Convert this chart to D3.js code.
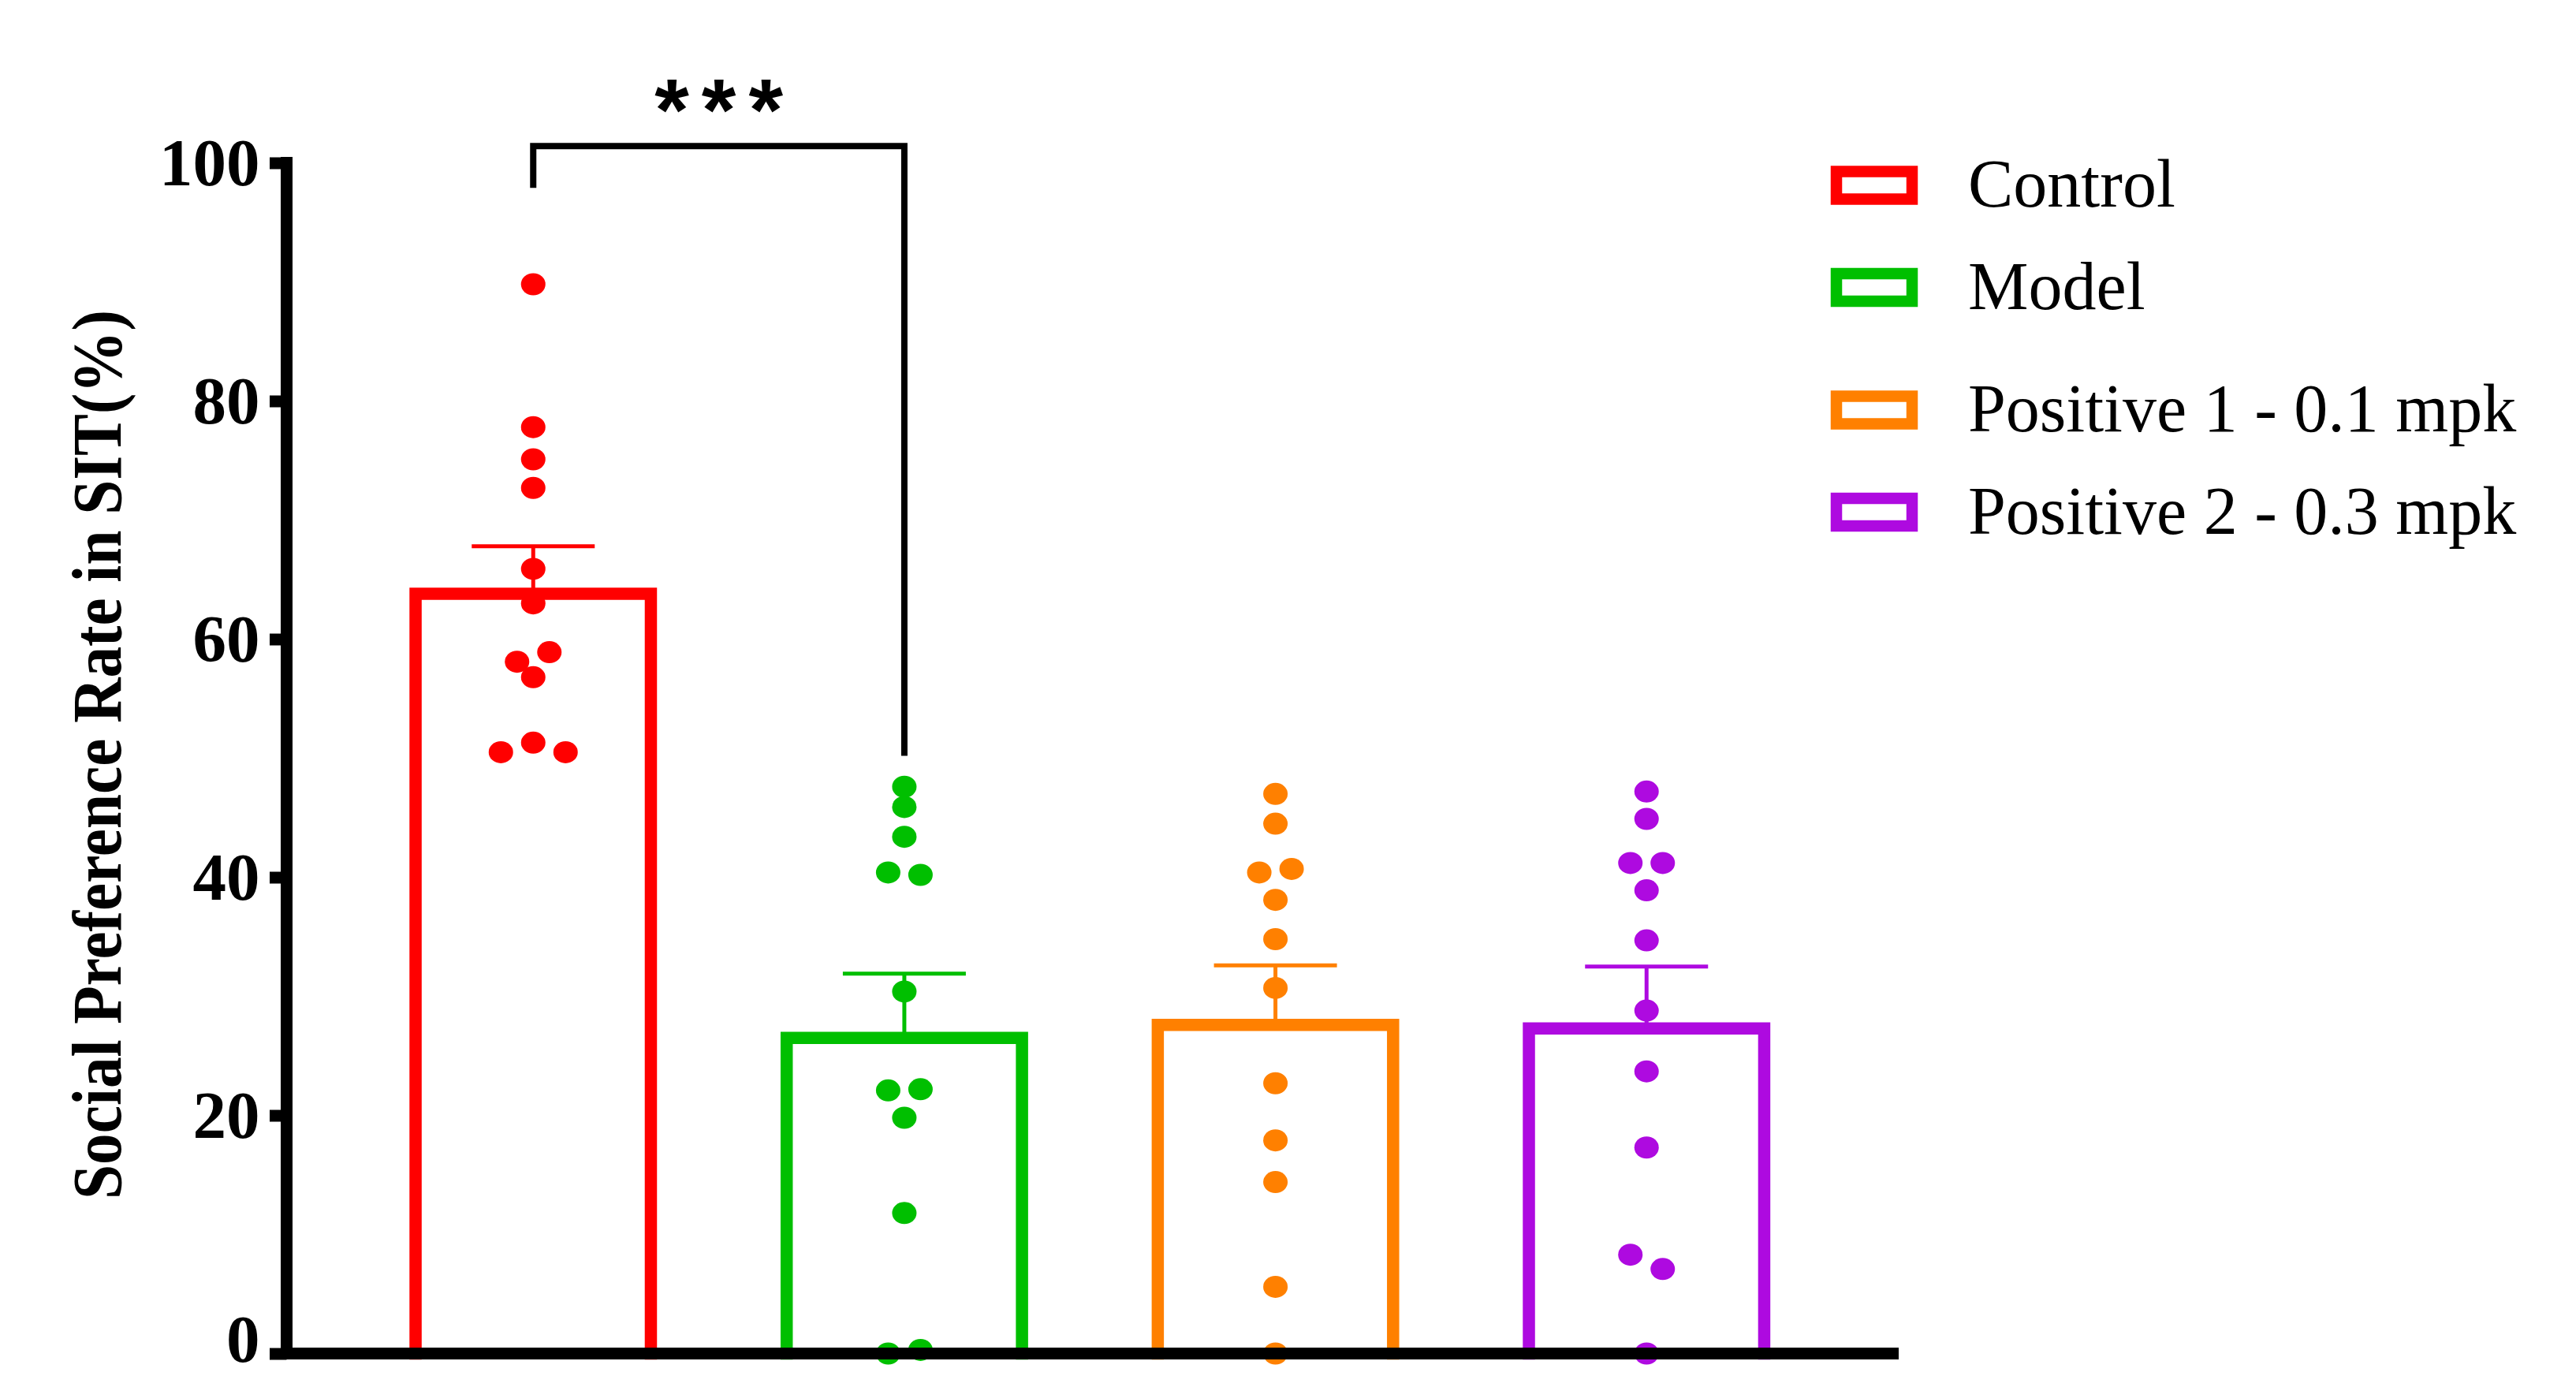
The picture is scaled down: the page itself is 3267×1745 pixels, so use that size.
<!DOCTYPE html>
<html>
<head>
<meta charset="utf-8">
<script src="https://cdn.jsdelivr.net/npm/d3@7"></script>
<style>
  body { margin: 0; background: #fff; }
  svg { display: block; }
</style>
</head>
<body>
<script>
// groups and colours
var groups = ['Control', 'Model', 'Positive 1 - 0.1 mpk', 'Positive 2 - 0.3 mpk'];
var colors = ['#ff0000', '#00bf00', '#ff8000', '#ae0ae0'];

// bar height (mean) and SEM
var means = [63.8, 26.5, 27.6, 27.3];
var sems = [4.0, 5.4, 5.0, 5.2];

// individual animals, one list per group
var controlPts = [89.8, 77.8, 75.1, 72.7, 65.9, 63.0, 58.1, 58.9, 56.8, 50.5, 51.3, 50.5];
var modelPts = [47.6, 45.9, 43.4, 40.4, 40.2, 30.4, 22.1, 22.2, 19.8, 11.8, 0.0, 0.3];
var pos1Pts = [47.0, 44.5, 40.4, 40.7, 38.1, 34.8, 30.7, 22.7, 17.9, 14.4, 5.6, 0.0];
var pos2Pts = [47.2, 44.9, 41.2, 41.2, 38.9, 34.7, 28.8, 23.7, 17.3, 8.3, 7.1, 0.0];
var points = [controlPts, modelPts, pos1Pts, pos2Pts];

var yTicks = [0, 20, 40, 60, 80, 100];

// significance bracket: Control vs Model
var sigPair = [0, 1];
var sigTop = 101.4;
var sigLegs = [97.9, 50.2];
var sigLabel = '***';

var W = 3267, H = 1745;

var svg = d3.select('body').append('svg')
  .attr('width', W)
  .attr('height', H);

var y = d3.scaleLinear()
  .domain([0, 100])
  .range([1716.5, 206.5]);

var x = d3.scaleBand()
  .domain(groups)
  .range([363.5, 2401])
  .paddingInner(0.333)
  .paddingOuter(0.331);

function cx(i) {
  return x(groups[i]) + x.bandwidth() / 2;
}

// spread points that sit at about the same height into a row, left to right in list order
function spread(vals, rowPx, gap) {
  var idx = vals.map(function(v, i) { return i; });
  idx.sort(function(a, b) { return vals[b] - vals[a] || a - b; });
  var off = new Array(vals.length);
  var k = 0;
  while (k < idx.length) {
    var row = [idx[k]];
    var top = y(vals[idx[k]]);
    var j = k + 1;
    while (j < idx.length && y(vals[idx[j]]) - top < rowPx) {
      row.push(idx[j]);
      j++;
    }
    row.sort(d3.ascending);
    row.forEach(function(p, r) {
      off[p] = (r - (row.length - 1) / 2) * gap;
    });
    k = j;
  }
  return off;
}

var barStroke = 15.5;

// bars
var bars = svg.append('g');
groups.forEach(function(g, i) {
  var bw = x.bandwidth() - barStroke;
  bars.append('path')
    .attr('d', 'M' + (cx(i) - bw / 2) + ',' + y(0) +
               'V' + y(means[i]) +
               'H' + (cx(i) + bw / 2) +
               'V' + y(0))
    .attr('fill', 'none')
    .attr('stroke', colors[i])
    .attr('stroke-width', barStroke)
    .attr('stroke-linejoin', 'miter')
    .attr('stroke-linecap', 'square');
});

// error bars (upper only)
var errs = svg.append('g');
groups.forEach(function(g, i) {
  var top = y(means[i] + sems[i]);
  errs.append('line')
    .attr('x1', cx(i)).attr('x2', cx(i))
    .attr('y1', y(means[i])).attr('y2', top)
    .attr('stroke', colors[i]).attr('stroke-width', 5);
  errs.append('line')
    .attr('x1', cx(i) - 78).attr('x2', cx(i) + 78)
    .attr('y1', top).attr('y2', top)
    .attr('stroke', colors[i]).attr('stroke-width', 5);
});

// dots
var dots = svg.append('g');
points.forEach(function(vals, i) {
  var off = spread(vals, 22, 41);
  dots.selectAll(null)
    .data(vals)
    .enter().append('ellipse')
    .attr('cx', function(d, k) { return cx(i) + off[k]; })
    .attr('cy', function(d) { return y(d); })
    .attr('rx', 15.5)
    .attr('ry', 14)
    .attr('fill', colors[i]);
});

// y axis
var yAxis = d3.axisLeft(y)
  .tickValues(yTicks)
  .tickSize(21.5)
  .tickPadding(12.5)
  .tickFormat(d3.format('d'));

var ya = svg.append('g')
  .attr('transform', 'translate(363.5,0)')
  .call(yAxis);
ya.select('.domain').remove();
ya.selectAll('.tick line')
  .attr('stroke', '#000')
  .attr('stroke-width', 15);
ya.selectAll('.tick text')
  .attr('fill', '#000')
  // the 0 label is lifted a little so it stays inside the page
  .attr('dy', function(d) { return d === 0 ? '0.12em' : '0.33em'; })
  .style('font-family', '"Liberation Serif", "Times New Roman", serif')
  .style('font-weight', 'bold')
  .style('font-size', '85px');

svg.append('line')
  .attr('x1', 363.5).attr('x2', 363.5)
  .attr('y1', y(100) - 7.5).attr('y2', y(0))
  .attr('stroke', '#000').attr('stroke-width', 15);

// x axis: plain line, no ticks
svg.append('line')
  .attr('x1', 356).attr('x2', 2408)
  .attr('y1', y(0)).attr('y2', y(0))
  .attr('stroke', '#000').attr('stroke-width', 15);

// axis title, squeezed along its length like the original
var title = svg.append('text')
  .attr('text-anchor', 'middle')
  .style('font-family', '"Liberation Serif", "Times New Roman", serif')
  .style('font-weight', 'bold')
  .style('font-size', '88px')
  .text('Social Preference Rate in SIT(%)');
var titleLen = title.node().getComputedTextLength();
title.attr('transform', 'translate(153,957) rotate(-90) scale(' + (1128 / titleLen) + ',1)');

// significance bracket
var xa = cx(sigPair[0]), xb = cx(sigPair[1]);
svg.append('path')
  .attr('d', 'M' + xa + ',' + y(sigLegs[0]) +
             'V' + y(sigTop) +
             'H' + xb +
             'V' + y(sigLegs[1]))
  .attr('fill', 'none')
  .attr('stroke', '#000')
  .attr('stroke-width', 8)
  .attr('stroke-linejoin', 'miter');

var starGap = 16;
svg.append('text')
  .attr('x', (xa + xb) / 2 + starGap / 2)
  .attr('y', 178)
  .attr('text-anchor', 'middle')
  .style('font-family', '"Liberation Sans", Arial, sans-serif')
  .style('font-weight', 'bold')
  .style('font-size', '112px')
  .style('letter-spacing', starGap + 'px')
  .text(sigLabel);

// legend
var legend = svg.append('g').attr('transform', 'translate(2322,0)');
groups.forEach(function(g, i) {
  var cy = 235 + i * 129.5 + (i > 1 ? 26 : 0);
  legend.append('rect')
    .attr('x', 7).attr('y', cy - 17.5)
    .attr('width', 96).attr('height', 35)
    .attr('fill', 'none')
    .attr('stroke', colors[i])
    .attr('stroke-width', 14.5);
  legend.append('text')
    .attr('x', 174)
    .attr('y', cy + 27)
    .style('font-family', '"Liberation Serif", "Times New Roman", serif')
    .style('font-size', '86px')
    .text(g);
});
</script>
</body>
</html>
